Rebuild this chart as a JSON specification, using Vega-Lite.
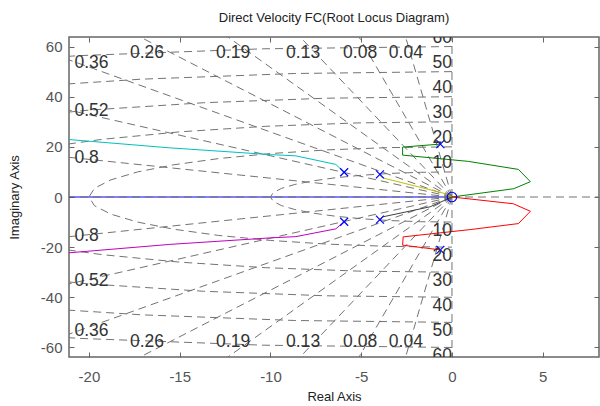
{
  "$schema": "https://vega.github.io/schema/vega-lite/v6.json",
  "width": 530,
  "height": 320,
  "autosize": {"type": "none"},
  "padding": {"left": 69, "top": 37, "right": 1, "bottom": 49},
  "background": "white",
  "config": {"view": {"stroke": "#666666", "strokeWidth": 1.5}, "font": "Liberation Sans"},
  "title": {"text": "Direct Velocity FC(Root Locus Diagram)", "fontSize": 13, "font": "Liberation Sans", "fontWeight": "normal", "color": "#222222", "offset": 12},
  "datasets": {
    "grid": [
      {"g":"z1u","o":0,"x":0,"y":0},{"g":"z1u","o":1,"x":-3.2,"y":79.94},
      {"g":"z1l","o":0,"x":0,"y":0},{"g":"z1l","o":1,"x":-3.2,"y":-79.94},
      {"g":"z2u","o":0,"x":0,"y":0},{"g":"z2u","o":1,"x":-6.4,"y":79.74},
      {"g":"z2l","o":0,"x":0,"y":0},{"g":"z2l","o":1,"x":-6.4,"y":-79.74},
      {"g":"z3u","o":0,"x":0,"y":0},{"g":"z3u","o":1,"x":-10.4,"y":79.32},
      {"g":"z3l","o":0,"x":0,"y":0},{"g":"z3l","o":1,"x":-10.4,"y":-79.32},
      {"g":"z4u","o":0,"x":0,"y":0},{"g":"z4u","o":1,"x":-15.2,"y":78.54},
      {"g":"z4l","o":0,"x":0,"y":0},{"g":"z4l","o":1,"x":-15.2,"y":-78.54},
      {"g":"z5u","o":0,"x":0,"y":0},{"g":"z5u","o":1,"x":-20.8,"y":77.25},
      {"g":"z5l","o":0,"x":0,"y":0},{"g":"z5l","o":1,"x":-20.8,"y":-77.25},
      {"g":"z6u","o":0,"x":0,"y":0},{"g":"z6u","o":1,"x":-28.8,"y":74.64},
      {"g":"z6l","o":0,"x":0,"y":0},{"g":"z6l","o":1,"x":-28.8,"y":-74.64},
      {"g":"z7u","o":0,"x":0,"y":0},{"g":"z7u","o":1,"x":-41.6,"y":68.33},
      {"g":"z7l","o":0,"x":0,"y":0},{"g":"z7l","o":1,"x":-41.6,"y":-68.33},
      {"g":"z8u","o":0,"x":0,"y":0},{"g":"z8u","o":1,"x":-64,"y":48},
      {"g":"z8l","o":0,"x":0,"y":0},{"g":"z8l","o":1,"x":-64,"y":-48},
      {"g":"ren","o":0,"x":0,"y":0},{"g":"ren","o":1,"x":-30,"y":0},
      {"g":"rep","o":0,"x":0,"y":0},{"g":"rep","o":1,"x":10,"y":0},
      {"g":"imu","o":0,"x":0,"y":0},{"g":"imu","o":1,"x":0,"y":70},
      {"g":"iml","o":0,"x":0,"y":0},{"g":"iml","o":1,"x":0,"y":-70},
      {"g":"c1","o":0,"x":0,"y":10},{"g":"c1","o":1,"x":-1.736,"y":9.848},{"g":"c1","o":2,"x":-3.42,"y":9.397},{"g":"c1","o":3,"x":-5,"y":8.66},{"g":"c1","o":4,"x":-6.428,"y":7.66},{"g":"c1","o":5,"x":-7.66,"y":6.428},{"g":"c1","o":6,"x":-8.66,"y":5},{"g":"c1","o":7,"x":-9.397,"y":3.42},{"g":"c1","o":8,"x":-9.848,"y":1.736},{"g":"c1","o":9,"x":-10,"y":0},
      {"g":"c1","o":10,"x":-9.848,"y":-1.736},{"g":"c1","o":11,"x":-9.397,"y":-3.42},{"g":"c1","o":12,"x":-8.66,"y":-5},{"g":"c1","o":13,"x":-7.66,"y":-6.428},{"g":"c1","o":14,"x":-6.428,"y":-7.66},{"g":"c1","o":15,"x":-5,"y":-8.66},{"g":"c1","o":16,"x":-3.42,"y":-9.397},{"g":"c1","o":17,"x":-1.736,"y":-9.848},{"g":"c1","o":18,"x":0,"y":-10},
      {"g":"c2","o":0,"x":0,"y":20},{"g":"c2","o":1,"x":-3.473,"y":19.696},{"g":"c2","o":2,"x":-6.84,"y":18.794},{"g":"c2","o":3,"x":-10,"y":17.321},{"g":"c2","o":4,"x":-12.856,"y":15.321},{"g":"c2","o":5,"x":-15.321,"y":12.856},{"g":"c2","o":6,"x":-17.321,"y":10},{"g":"c2","o":7,"x":-18.794,"y":6.84},{"g":"c2","o":8,"x":-19.696,"y":3.473},{"g":"c2","o":9,"x":-20,"y":0},
      {"g":"c2","o":10,"x":-19.696,"y":-3.473},{"g":"c2","o":11,"x":-18.794,"y":-6.84},{"g":"c2","o":12,"x":-17.321,"y":-10},{"g":"c2","o":13,"x":-15.321,"y":-12.856},{"g":"c2","o":14,"x":-12.856,"y":-15.321},{"g":"c2","o":15,"x":-10,"y":-17.321},{"g":"c2","o":16,"x":-6.84,"y":-18.794},{"g":"c2","o":17,"x":-3.473,"y":-19.696},{"g":"c2","o":18,"x":0,"y":-20},
      {"g":"c3u","o":0,"x":0,"y":30},{"g":"c3u","o":1,"x":-5.209,"y":29.544},{"g":"c3u","o":2,"x":-10.261,"y":28.191},{"g":"c3u","o":3,"x":-15,"y":25.981},{"g":"c3u","o":4,"x":-19.284,"y":22.981},{"g":"c3u","o":5,"x":-22.981,"y":19.284},
      {"g":"c3l","o":0,"x":0,"y":-30},{"g":"c3l","o":1,"x":-5.209,"y":-29.544},{"g":"c3l","o":2,"x":-10.261,"y":-28.191},{"g":"c3l","o":3,"x":-15,"y":-25.981},{"g":"c3l","o":4,"x":-19.284,"y":-22.981},{"g":"c3l","o":5,"x":-22.981,"y":-19.284},
      {"g":"c4u","o":0,"x":0,"y":40},{"g":"c4u","o":1,"x":-6.946,"y":39.392},{"g":"c4u","o":2,"x":-13.681,"y":37.588},{"g":"c4u","o":3,"x":-20,"y":34.641},{"g":"c4u","o":4,"x":-25.712,"y":30.642},
      {"g":"c4l","o":0,"x":0,"y":-40},{"g":"c4l","o":1,"x":-6.946,"y":-39.392},{"g":"c4l","o":2,"x":-13.681,"y":-37.588},{"g":"c4l","o":3,"x":-20,"y":-34.641},{"g":"c4l","o":4,"x":-25.712,"y":-30.642},
      {"g":"c5u","o":0,"x":0,"y":50},{"g":"c5u","o":1,"x":-8.682,"y":49.24},{"g":"c5u","o":2,"x":-17.101,"y":46.985},{"g":"c5u","o":3,"x":-25,"y":43.301},
      {"g":"c5l","o":0,"x":0,"y":-50},{"g":"c5l","o":1,"x":-8.682,"y":-49.24},{"g":"c5l","o":2,"x":-17.101,"y":-46.985},{"g":"c5l","o":3,"x":-25,"y":-43.301},
      {"g":"c6u","o":0,"x":0,"y":60},{"g":"c6u","o":1,"x":-10.419,"y":59.088},{"g":"c6u","o":2,"x":-20.521,"y":56.382},{"g":"c6u","o":3,"x":-30,"y":51.962},
      {"g":"c6l","o":0,"x":0,"y":-60},{"g":"c6l","o":1,"x":-10.419,"y":-59.088},{"g":"c6l","o":2,"x":-20.521,"y":-56.382},{"g":"c6l","o":3,"x":-30,"y":-51.962}
    ],
    "locus": [
      {"b":"blue","o":0,"x":0,"y":0},{"b":"blue","o":1,"x":-22,"y":0},
      {"b":"cyan","o":0,"x":-5.94,"y":9.85},{"b":"cyan","o":1,"x":-6.4,"y":13.0},{"b":"cyan","o":2,"x":-8.6,"y":16.4},{"b":"cyan","o":3,"x":-10,"y":16.9},{"b":"cyan","o":4,"x":-15.55,"y":19.6},{"b":"cyan","o":5,"x":-21.5,"y":23.15},
      {"b":"magenta","o":0,"x":-5.94,"y":-9.85},{"b":"magenta","o":1,"x":-6.4,"y":-12.7},{"b":"magenta","o":2,"x":-8.6,"y":-15.8},{"b":"magenta","o":3,"x":-10,"y":-16.3},{"b":"magenta","o":4,"x":-15.55,"y":-18.9},{"b":"magenta","o":5,"x":-21.5,"y":-22.5},
      {"b":"yellow","o":0,"x":-3.97,"y":9.0},{"b":"yellow","o":1,"x":-3.9,"y":8.0},{"b":"yellow","o":2,"x":-3.75,"y":7.5},{"b":"yellow","o":3,"x":-0.5,"y":1.6},{"b":"yellow","o":4,"x":0,"y":0},
      {"b":"dark","o":0,"x":-3.97,"y":-9.0},{"b":"dark","o":1,"x":-3.8,"y":-7.9},{"b":"dark","o":2,"x":-1.2,"y":-3.9},{"b":"dark","o":3,"x":0,"y":0},
      {"b":"green","o":0,"x":-0.64,"y":21.1},{"b":"green","o":1,"x":-2.72,"y":19.9},{"b":"green","o":2,"x":-2.72,"y":16.7},{"b":"green","o":3,"x":0.9,"y":14.2},{"b":"green","o":4,"x":3.66,"y":11.0},{"b":"green","o":5,"x":4.32,"y":6.1},{"b":"green","o":6,"x":3.4,"y":3.3},{"b":"green","o":7,"x":0,"y":0},
      {"b":"red","o":0,"x":0,"y":0},{"b":"red","o":1,"x":3.38,"y":-2.7},{"b":"red","o":2,"x":4.32,"y":-5.7},{"b":"red","o":3,"x":3.66,"y":-10.6},{"b":"red","o":4,"x":1.0,"y":-13.0},{"b":"red","o":5,"x":-2.69,"y":-15.9},{"b":"red","o":6,"x":-2.72,"y":-19.2},{"b":"red","o":7,"x":-0.64,"y":-21.1}
    ],
    "poles": [
      {"x":-5.94,"y":9.85},{"x":-5.94,"y":-9.85},{"x":-3.97,"y":9.0},{"x":-3.97,"y":-9.0},{"x":-0.64,"y":21.1},{"x":-0.64,"y":-21.1}
    ],
    "zeros": [{"x":0,"y":0}],
    "labels": [
      {"k":"L","t":"0.36","x":-20.8,"y":53.6},{"k":"L","t":"0.52","x":-20.8,"y":34.2},{"k":"L","t":"0.8","x":-20.8,"y":15.6},
      {"k":"L","t":"0.8","x":-20.8,"y":-15.5},{"k":"L","t":"0.52","x":-20.8,"y":-33.6},{"k":"L","t":"0.36","x":-20.8,"y":-53.5},
      {"k":"T","t":"0.26","x":-16.8,"y":57.4},{"k":"T","t":"0.19","x":-12.06,"y":57.4},{"k":"T","t":"0.13","x":-8.2,"y":57.4},{"k":"T","t":"0.08","x":-5.06,"y":57.4},{"k":"T","t":"0.04","x":-2.54,"y":57.4},
      {"k":"T","t":"0.26","x":-16.8,"y":-58},{"k":"T","t":"0.19","x":-12.06,"y":-58},{"k":"T","t":"0.13","x":-8.2,"y":-58},{"k":"T","t":"0.08","x":-5.06,"y":-58},{"k":"T","t":"0.04","x":-2.54,"y":-58},
      {"k":"WU","t":"10","x":0,"y":10},{"k":"WU","t":"20","x":0,"y":20},{"k":"WU","t":"30","x":0,"y":30},{"k":"WU","t":"40","x":0,"y":40},{"k":"WU","t":"50","x":0,"y":50},{"k":"WU","t":"60","x":0,"y":60},
      {"k":"WL","t":"10","x":0,"y":-10},{"k":"WL","t":"20","x":0,"y":-20},{"k":"WL","t":"30","x":0,"y":-30},{"k":"WL","t":"40","x":0,"y":-40},{"k":"WL","t":"50","x":0,"y":-50},{"k":"WL","t":"60","x":0,"y":-60}
    ]
  },
  "layer": [
    {
      "data": {"name": "locus"},
      "transform": [{"filter": "datum.b === 'blue'"}],
      "mark": {"type": "line", "strokeWidth": 1, "color": "#0000ff", "clip": true},
      "encoding": {
        "x": {"field": "x", "type": "quantitative", "scale": {"domain": [-21.1, 8.1], "nice": false, "zero": false},
          "axis": {"orient": "bottom", "title": "Real Axis", "values": [-20, -15, -10, -5, 0, 5], "grid": false, "domain": false, "offset": -5, "tickSize": 5, "tickColor": "#666666", "tickWidth": 1, "labelPadding": 12, "labelFontSize": 15, "labelColor": "#555555", "labelFont": "Liberation Sans", "labelExpr": "'' + datum.value", "labelFlush": false, "titleFontSize": 13, "titleFont": "Liberation Sans", "titleFontWeight": "normal", "titleColor": "#222222", "titlePadding": 6}},
        "y": {"field": "y", "type": "quantitative", "scale": {"domain": [-63.8, 63.8], "nice": false, "zero": false},
          "axis": {"orient": "left", "title": "Imaginary Axis", "values": [-60, -40, -20, 0, 20, 40, 60], "grid": false, "domain": false, "offset": -5, "tickSize": 5, "tickColor": "#666666", "tickWidth": 1, "labelPadding": 7, "labelFontSize": 15, "labelColor": "#555555", "labelFont": "Liberation Sans", "labelExpr": "'' + datum.value", "labelFlush": false, "titleFontSize": 13, "titleFont": "Liberation Sans", "titleFontWeight": "normal", "titleColor": "#222222", "titlePadding": 19}},
        "order": {"field": "o", "type": "quantitative"}
      }
    },
    {
      "data": {"name": "grid"},
      "mark": {"type": "line", "strokeDash": [8, 5], "color": "#737373", "strokeWidth": 1, "clip": true},
      "encoding": {
        "x": {"field": "x", "type": "quantitative", "axis": null},
        "y": {"field": "y", "type": "quantitative", "axis": null},
        "detail": {"field": "g", "type": "nominal"},
        "order": {"field": "o", "type": "quantitative"}
      }
    },
    {
      "data": {"name": "locus"},
      "transform": [{"filter": "datum.b !== 'blue'"}],
      "mark": {"type": "line", "strokeWidth": 1, "clip": true},
      "encoding": {
        "x": {"field": "x", "type": "quantitative", "axis": null},
        "y": {"field": "y", "type": "quantitative", "axis": null},
        "color": {"field": "b", "type": "nominal", "scale": {"domain": ["cyan", "magenta", "yellow", "dark", "green", "red"], "range": ["#00bfbf", "#bf00bf", "#bfbf00", "#404040", "#008000", "#ff0000"]}, "legend": null},
        "order": {"field": "o", "type": "quantitative"}
      }
    },
    {
      "data": {"name": "poles"},
      "mark": {"type": "point", "shape": "M-1,-1L1,1M-1,1L1,-1", "filled": false, "color": "#0000ff", "opacity": 1, "size": 64, "strokeWidth": 1.2, "clip": true},
      "encoding": {
        "x": {"field": "x", "type": "quantitative",
          "axis": {"orient": "top", "title": null, "labels": false, "values": [-20, -15, -10, -5, 0, 5], "grid": false, "domain": false, "offset": -5, "tickSize": 5, "tickColor": "#666666", "tickWidth": 1}},
        "y": {"field": "y", "type": "quantitative",
          "axis": {"orient": "right", "title": null, "labels": false, "values": [-60, -40, -20, 0, 20, 40, 60], "grid": false, "domain": false, "offset": -5, "tickSize": 5, "tickColor": "#666666", "tickWidth": 1}}
      }
    },
    {
      "data": {"name": "zeros"},
      "mark": {"type": "point", "shape": "circle", "filled": false, "color": "#0000ff", "opacity": 1, "size": 90, "strokeWidth": 1.2, "clip": true},
      "encoding": {
        "x": {"field": "x", "type": "quantitative", "axis": null},
        "y": {"field": "y", "type": "quantitative", "axis": null}
      }
    },
    {
      "data": {"name": "labels"},
      "transform": [{"filter": "datum.k === 'L'"}],
      "mark": {"type": "text", "align": "left", "baseline": "middle", "fontSize": 17.5, "font": "Liberation Sans", "color": "#333333", "clip": true},
      "encoding": {
        "x": {"field": "x", "type": "quantitative", "axis": null},
        "y": {"field": "y", "type": "quantitative", "axis": null},
        "text": {"field": "t", "type": "nominal"}
      }
    },
    {
      "data": {"name": "labels"},
      "transform": [{"filter": "datum.k === 'T'"}],
      "mark": {"type": "text", "align": "center", "baseline": "middle", "fontSize": 17.5, "font": "Liberation Sans", "color": "#333333", "clip": true},
      "encoding": {
        "x": {"field": "x", "type": "quantitative", "axis": null},
        "y": {"field": "y", "type": "quantitative", "axis": null},
        "text": {"field": "t", "type": "nominal"}
      }
    },
    {
      "data": {"name": "labels"},
      "transform": [{"filter": "datum.k === 'WU'"}],
      "mark": {"type": "text", "align": "right", "baseline": "bottom", "fontSize": 17.5, "font": "Liberation Sans", "color": "#333333", "clip": true},
      "encoding": {
        "x": {"field": "x", "type": "quantitative", "axis": null},
        "y": {"field": "y", "type": "quantitative", "axis": null},
        "text": {"field": "t", "type": "nominal"}
      }
    },
    {
      "data": {"name": "labels"},
      "transform": [{"filter": "datum.k === 'WL'"}],
      "mark": {"type": "text", "align": "right", "baseline": "top", "fontSize": 17.5, "font": "Liberation Sans", "color": "#333333", "clip": true},
      "encoding": {
        "x": {"field": "x", "type": "quantitative", "axis": null},
        "y": {"field": "y", "type": "quantitative", "axis": null},
        "text": {"field": "t", "type": "nominal"}
      }
    }
  ],
  "resolve": {"axis": {"x": "independent", "y": "independent"}}
}
